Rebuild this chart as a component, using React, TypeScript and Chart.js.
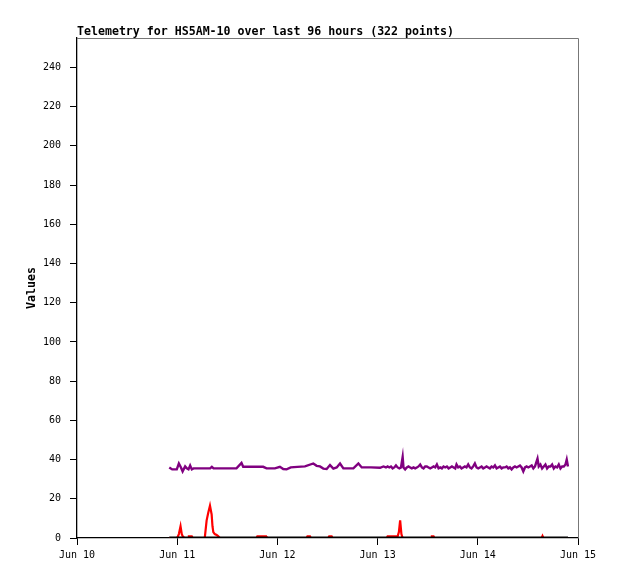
import { useEffect, useRef } from "react"
import Chart from "chart.js/auto"

// hours since Jun 10 00:00
const dayLabels = ["Jun 10", "Jun 11", "Jun 12", "Jun 13", "Jun 14", "Jun 15"]

const purpleHours = [
  22.1, 22.8, 23.9, 24.4, 24.9, 25.3, 25.9, 26.3, 26.7, 27.1, 27.5, 27.9, 30.0, 31.9, 32.3, 32.7,
  35.4, 38.2, 39.4, 39.8, 42.2, 44.6, 45.4, 47.4, 48.6, 49.4, 50.2, 51.2, 52.8, 54.6, 56.6, 57.4,
  58.2, 59.0, 59.8, 60.6, 61.4, 62.2, 63.0, 63.8, 65.0, 66.2, 67.4, 68.2, 70.4, 72.6, 73.4,
  74.0, 74.4, 74.8, 75.2, 75.6, 76.0, 76.4, 76.8, 77.2, 77.6, 78.0, 78.2, 78.6, 79.0, 79.4, 79.8,
  80.2, 80.6, 81.0, 81.4, 81.8, 82.2, 82.6, 83.0, 83.4, 83.8, 84.2, 84.6, 85.0, 85.4, 85.8, 86.2,
  86.6, 87.0, 87.4, 87.8, 88.2, 88.6, 89.0, 89.4, 89.8, 90.2, 90.6, 90.9, 91.3, 91.7, 92.1, 92.5,
  92.9, 93.3, 93.7, 94.1, 94.5, 94.9, 95.3, 95.7, 96.1, 96.5, 96.9, 97.3, 97.7, 98.1, 98.5, 98.9,
  99.3, 99.7, 100.1, 100.5, 100.9, 101.3, 101.7, 102.1, 102.5, 102.9, 103.3, 103.7, 104.1, 104.5,
  104.9, 105.3, 105.7, 106.1, 106.5, 106.9, 107.3, 107.7, 108.1, 108.5, 108.9, 109.3, 109.7, 110.3,
  110.6, 111.0, 111.4, 111.8, 112.2, 112.6, 113.0, 113.4, 113.8, 114.2, 114.6, 115.0, 115.4, 115.8,
  116.2, 116.6, 117.0, 117.3, 117.6,
]
const purpleValues = [
  36, 35, 35, 38, 36, 34, 36.5, 35.5, 35, 37, 35, 35.5, 35.5, 35.5, 36.3, 35.5,
  35.5, 35.5, 38.3, 36.3, 36.3, 36.3, 35.5, 35.5, 36.3, 35.2, 35, 36, 36.3, 36.5, 38, 36.8,
  36.5, 35.4, 35.2, 37.2, 35.4, 36, 38, 35.5, 35.5, 35.5, 38, 36, 36, 35.8, 36.5,
  36, 36.5, 36, 36.5, 35.5, 36, 37, 36, 35.5, 36, 41.3, 36, 35, 36, 36.5, 36,
  35.5, 36, 35.5, 36, 36.5, 37.5, 36, 35.5, 36.5, 36.5, 36, 35.5, 36, 36.5, 36, 37.5,
  35.5, 36, 35.5, 36.5, 36, 36.5, 35.5, 36, 36.5, 36, 35.5, 37.5, 36, 36.5, 35.5, 36,
  36.5, 36, 37.5, 36, 35.5, 36.5, 38, 36, 35.5, 36, 36.5, 35.5, 36, 36.5, 36, 35.5,
  36.5, 36, 37, 35.5, 36, 36.5, 35.5, 36, 36, 36.5, 35.5, 36, 35, 36,
  36.5, 36, 36.5, 37, 36, 34, 36, 36.5, 36, 36.5, 37, 35.5, 36.5, 40.5,
  36.5, 37.5, 35.5, 36.5, 37.5, 35.5, 36.5, 36.5, 37.5, 35.5, 36.5, 36, 37.5, 35.5,
  36.5, 36.5, 37.5, 40, 36.5,
]

const redHours = [
  22.1, 24.0, 24.4, 24.8, 25.1, 25.4, 25.8, 26.6, 26.8, 27.5, 27.7, 30.6, 30.8, 31.05, 31.45, 31.85,
  32.25, 32.45, 32.65, 33.0, 33.45, 33.8, 34.2, 43.0, 43.2, 45.3, 45.5, 55.0, 55.2, 55.8, 56.0,
  60.2, 60.4, 61.0, 61.2, 74.2, 74.4, 76.8, 77.1, 77.4, 77.7, 78.0, 84.8, 85.0, 85.4, 85.6,
  111.3, 111.5, 111.7, 117.6,
]
const redValues = [
  0, 0, 2, 6, 2, 0.5, 0, 0, 0.8, 0.8, 0, 0, 4, 9, 13, 16.5,
  12, 6, 3, 2, 1.5, 1, 0, 0, 0.8, 0.8, 0, 0, 0.8, 0.8, 0,
  0, 0.8, 0.8, 0, 0, 0.8, 0.8, 3, 9, 2, 0, 0, 0.8, 0.8, 0,
  0, 1, 0, 0,
]

const blackHours = [22.1, 117.6]
const blackValues = [0, 0]

const toPoints = (xs: number[], ys: number[]) => xs.map((x, i) => ({ x, y: ys[i] }))

const MONO = "'DejaVu Sans Mono', 'Liberation Mono', monospace"

const framePlugin = {
  id: "frame",
  afterDraw(chart: any) {
    const { ctx, chartArea } = chart
    ctx.save()
    ctx.strokeStyle = "#777"
    ctx.lineWidth = 1
    ctx.beginPath()
    ctx.moveTo(chartArea.left, chartArea.top + 0.5)
    ctx.lineTo(chartArea.right + 0.5, chartArea.top + 0.5)
    ctx.lineTo(chartArea.right + 0.5, chartArea.bottom)
    ctx.stroke()
    ctx.fillStyle = "#000"
    ctx.font = `bold 11.6px ${MONO}`
    ctx.textAlign = "left"
    ctx.textBaseline = "alphabetic"
    ctx.fillText("Telemetry for HS5AM-10 over last 96 hours (322 points)", chartArea.left, 35)
    ctx.restore()
  },
}

export default function App() {
  const chartRef = useRef<HTMLCanvasElement>(null)
  const chartInstance = useRef<Chart | null>(null)

  useEffect(() => {
    if (!chartRef.current) return
    if (chartInstance.current) chartInstance.current.destroy()
    const ctx = chartRef.current.getContext("2d")
    if (!ctx) return

    chartInstance.current = new Chart(ctx, {
      type: "line",
      data: {
        datasets: [
          {
            label: "black",
            data: toPoints(blackHours, blackValues),
            borderColor: "#000",
            borderWidth: 3,
            pointRadius: 0,
            order: 0,
          },
          {
            label: "red",
            data: toPoints(redHours, redValues),
            borderColor: "#ff0000",
            borderWidth: 2.2,
            pointRadius: 0,
            order: 1,
          },
          {
            label: "purple",
            data: toPoints(purpleHours, purpleValues),
            borderColor: "#800080",
            borderWidth: 2.4,
            pointRadius: 0,
            order: 2,
          },
        ],
      },
      options: {
        responsive: false,
        animation: false,
        layout: { padding: { top: 38, right: 40, left: 0, bottom: 0 } },
        plugins: {
          legend: { display: false },
          tooltip: { enabled: false },
          title: { display: false },
        },
        elements: { line: { tension: 0 } },
        scales: {
          x: {
            type: "linear",
            min: 0,
            max: 120,
            afterFit: (scale: any) => {
              scale.height = 41
            },
            grid: {
              drawOnChartArea: false,
              drawTicks: true,
              tickLength: 7,
              color: "#000",
            },
            border: { color: "#000", width: 1.3 },
            ticks: {
              stepSize: 24,
              autoSkip: false,
              maxRotation: 0,
              padding: 4,
              color: "#000",
              font: { family: MONO, size: 10 },
              callback: (v: any) => dayLabels[Math.round(Number(v) / 24)] ?? "",
            },
          },
          y: {
            min: 0,
            max: 255,
            afterFit: (scale: any) => {
              scale.width = 77
            },
            grid: {
              drawOnChartArea: false,
              drawTicks: true,
              tickLength: 7,
              color: "#000",
            },
            border: { color: "#000", width: 1.3 },
            title: {
              display: true,
              text: "Values",
              color: "#000",
              font: { family: MONO, size: 11.6, weight: "bold" },
              padding: { top: 25, bottom: 0 },
            },
            ticks: {
              stepSize: 20,
              includeBounds: false,
              padding: 9,
              color: "#000",
              font: { family: MONO, size: 10 },
            },
          },
        },
      },
      plugins: [framePlugin],
    })

    return () => {
      if (chartInstance.current) {
        chartInstance.current.destroy()
        chartInstance.current = null
      }
    }
  }, [])

  return (
    <div style={{ position: "absolute", left: 0, top: 0, width: 618, height: 579, background: "#fff" }}>
      <canvas ref={chartRef} width={618} height={579} />
    </div>
  )
}
